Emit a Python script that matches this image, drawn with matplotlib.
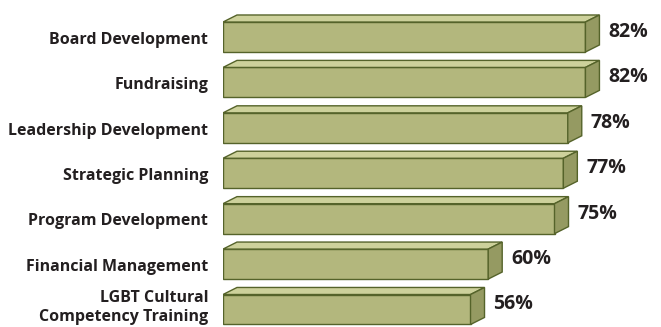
import matplotlib.pyplot as plt
from matplotlib.patches import Polygon

categories = ["Board Development", "Fundraising", "Leadership Development",
              "Strategic Planning", "Program Development", "Financial Management",
              "LGBT Cultural\nCompetency Training"]
values = [82, 82, 78, 77, 75, 60, 56]

front = "#b3b77d"
top = "#cdd19b"
side = "#959a62"
edge = "#55632a"

fig = plt.figure(figsize=(6.61, 3.27), dpi=100)
ax = fig.add_axes([223 / 661, 0, 1 - 223 / 661, 1])

px = 4.42       # px per percent
h = 0.66        # bar height (rows)
dx = 14 / px    # depth offset in %
dy = 0.155      # depth offset in rows

pos = list(range(len(values)))
ax.barh(pos, values, height=h, color=front, edgecolor=edge, linewidth=1.0, zorder=2)

for y, v, name in zip(pos, values, categories):
    y0, y1 = y - h / 2, y + h / 2   # y1 is bottom (axis inverted)
    ax.add_patch(Polygon([(0, y0), (dx, y0 - dy), (v + dx, y0 - dy), (v, y0)],
                         closed=True, facecolor=top, edgecolor=edge, linewidth=1.0, zorder=2))
    ax.add_patch(Polygon([(v, y0), (v + dx, y0 - dy), (v + dx, y1 - dy), (v, y1)],
                         closed=True, facecolor=side, edgecolor=edge, linewidth=1.0, zorder=2))
    ax.text(v + dx + 9 / px, y - 0.11, f"{v}%", ha="left", va="center",
            fontsize=14, fontweight="bold", family="Open Sans", color="#231f20")
    shift = -0.04 if "\n" in name else 0.06
    ax.text(-15 / px, y + shift, name, ha="right", va="center", fontsize=11.5,
            fontweight="bold", family="Open Sans", color="#231f20", linespacing=1.2,
            clip_on=False)

ax.set_xlim(0, 438 / px)
ax.set_ylim(6 + (327 - 309.5) / 45.4, -37 / 45.4)
ax.set_xticks([])
ax.set_yticks([])
for s in ax.spines.values():
    s.set_visible(False)

fig.savefig("out.png", dpi=100)
